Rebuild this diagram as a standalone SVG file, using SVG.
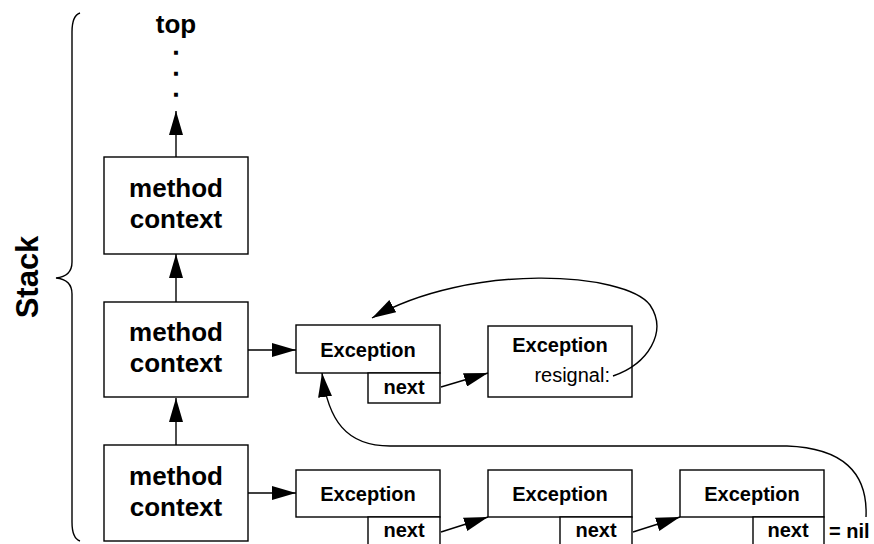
<svg xmlns="http://www.w3.org/2000/svg" width="874" height="544" viewBox="0 0 874 544">
<style>
.box{fill:#fff;stroke:#000;stroke-width:1.4}
.ln{fill:none;stroke:#000;stroke-width:1.4}
.big{font-family:"Liberation Sans",Arial,sans-serif;font-weight:bold;font-size:26px;text-anchor:middle}
.mid{font-family:"Liberation Sans",Arial,sans-serif;font-weight:bold;font-size:20px;text-anchor:middle}
.reg{font-family:"Liberation Sans",Arial,sans-serif;font-size:20px;text-anchor:end}
.dot{font-family:"Liberation Sans",Arial,sans-serif;font-weight:bold;font-size:16px;text-anchor:middle;stroke:#000;stroke-width:1.6}
</style>
<defs>
<marker id="ah" markerUnits="userSpaceOnUse" markerWidth="24" markerHeight="14" refX="24" refY="7" orient="auto" viewBox="0 0 24 14">
<path d="M0,0 L24,7 L0,14 z" fill="#000"/>
</marker>
</defs>
<g id="stack-label">
<path class="ln" d="M80,13 C74,15 72,22 72,32 L72,262 C72,272 66,277 56,278 C66,279 72,284 72,294 L72,522 C72,532 74,539 80,541"/>
<text class="big" style="font-size:31px" transform="translate(38,277) rotate(-90)" x="0" y="0">Stack</text>
</g>
<g id="top">
<text class="big" x="176" y="33">top</text>
<text class="dot" x="176" y="54">.</text>
<text class="dot" x="176" y="75">.</text>
<text class="dot" x="176" y="96">.</text>
</g>
<g id="mc1">
<rect class="box" x="104" y="157" width="144" height="97"/>
<text class="big" x="176" y="197">method</text>
<text class="big" x="176" y="228">context</text>
</g>
<g id="mc2">
<rect class="box" x="104" y="302" width="144" height="95"/>
<text class="big" x="176" y="341">method</text>
<text class="big" x="176" y="372">context</text>
</g>
<g id="mc3">
<rect class="box" x="104" y="445" width="144" height="96"/>
<text class="big" x="176" y="485">method</text>
<text class="big" x="176" y="516">context</text>
</g>
<g id="exA">
<rect class="box" x="296" y="325" width="144" height="48"/>
<rect class="box" x="368" y="373" width="72" height="30"/>
<text class="mid" x="368" y="357">Exception</text>
<text class="mid" x="404" y="394">next</text>
</g>
<g id="exB">
<rect class="box" x="488" y="326" width="144" height="71"/>
<text class="mid" x="560" y="352">Exception</text>
<text class="reg" x="610" y="382">resignal:</text>
</g>
<g id="exC">
<rect class="box" x="296" y="470" width="144" height="47"/>
<rect class="box" x="368" y="517" width="72" height="30"/>
<text class="mid" x="368" y="501">Exception</text>
<text class="mid" x="404" y="537">next</text>
</g>
<g id="exD">
<rect class="box" x="488" y="470" width="144" height="47"/>
<rect class="box" x="560" y="517" width="72" height="30"/>
<text class="mid" x="560" y="501">Exception</text>
<text class="mid" x="596" y="537">next</text>
</g>
<g id="exE">
<rect class="box" x="680" y="470" width="144" height="47"/>
<rect class="box" x="753" y="517" width="71" height="30"/>
<text class="mid" x="752" y="501">Exception</text>
<text class="mid" x="788" y="537">next</text>
<text class="mid" style="text-anchor:start" x="829" y="538">= nil</text>
</g>
<g id="connectors">
<path class="ln" marker-end="url(#ah)" d="M176,157 L176,111"/>
<path class="ln" marker-end="url(#ah)" d="M176,302 L176,254"/>
<path class="ln" marker-end="url(#ah)" d="M176,445 L176,398"/>
<path class="ln" marker-end="url(#ah)" d="M248,350 L296,350"/>
<path class="ln" marker-end="url(#ah)" d="M248,493 L296,493"/>
<path class="ln" marker-end="url(#ah)" d="M441,387 L488,373"/>
<path class="ln" marker-end="url(#ah)" d="M441,532 L488,517"/>
<path class="ln" marker-end="url(#ah)" d="M633,532 L680,517"/>
<path class="ln" marker-end="url(#ah)" d="M613,376 C648,364 668,332 650,305 C625,272 470,262 372,318"/>
<path class="ln" marker-end="url(#ah)" d="M866,517 C868,472 842,448 787,446 L390,446 C346,446 328,420 322,373"/>
</g>
</svg>
